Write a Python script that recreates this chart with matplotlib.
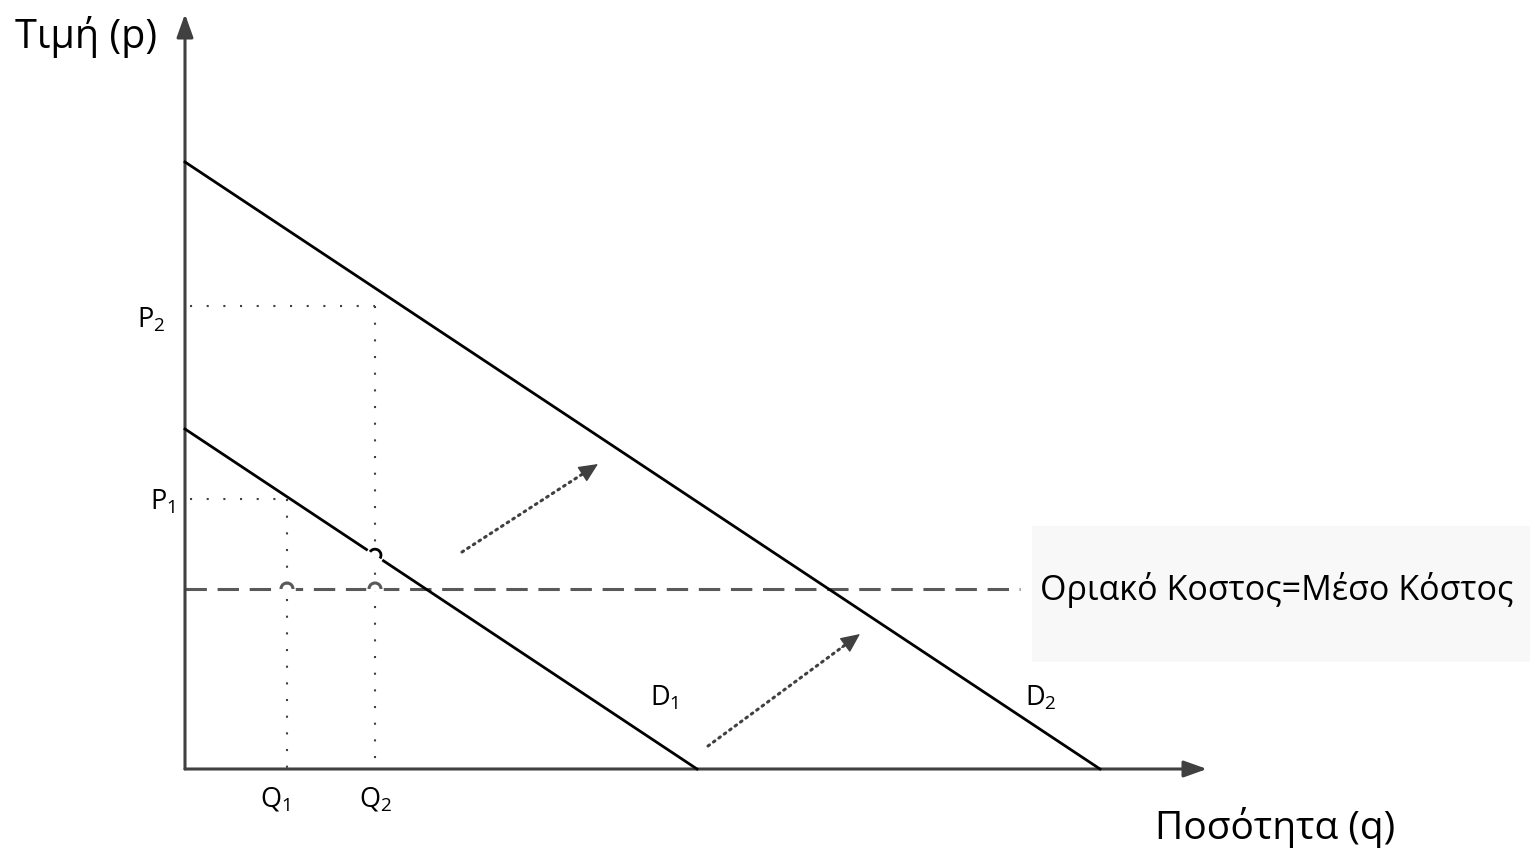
import numpy as np
import matplotlib.pyplot as plt
from matplotlib.patches import Arc, Rectangle

plt.rcParams['font.family'] = ['Open Sans', 'DejaVu Sans']
plt.rcParams['mathtext.fontset'] = 'custom'
plt.rcParams['mathtext.rm'] = 'Open Sans'

# Δεδομένα (μονάδες του διαγράμματος)
d1_p0, d1_q0 = 340, 512      # καμπύλη ζήτησης D1: τομές με άξονες
d2_p0, d2_q0 = 607, 915      # καμπύλη ζήτησης D2
mc = 180                     # οριακό = μέσο κόστος
mc_end = 835
p_levels = [270, 463]        # P1, P2
q_levels = [102, 190]        # Q1, Q2
p_labels = ['P$_\\mathregular{1}$', 'P$_\\mathregular{2}$']
q_labels = ['Q$_\\mathregular{1}$', 'Q$_\\mathregular{2}$']
shift_arrows = [((277, 217), (413, 305)), ((523, 23), (675, 135))]
x_max, y_max = 1022, 755

axis_col = '#404040'

fig = plt.figure(figsize=(15.35, 8.53), dpi=100)
ax = fig.add_axes([0, 0, 1, 1])
ax.set_xlim(-185, 1350)
ax.set_ylim(-83, 770)
ax.axis('off')

# άξονες με βέλη
ax.annotate('', xy=(0, y_max), xytext=(0, 0),
            arrowprops=dict(arrowstyle='-|>,head_length=1.4,head_width=0.5',
                            color=axis_col, lw=2.2, shrinkA=0, shrinkB=0))
ax.annotate('', xy=(x_max, 0), xytext=(0, 0),
            arrowprops=dict(arrowstyle='-|>,head_length=1.4,head_width=0.5',
                            color=axis_col, lw=2.2, shrinkA=0, shrinkB=0))

# καμπύλες ζήτησης
ax.plot([0, d1_q0], [d1_p0, 0], color='black', lw=2.0, zorder=3)
ax.plot([0, d2_q0], [d2_p0, 0], color='black', lw=2.0, zorder=3)

# οριακό κόστος
ax.plot([0, mc_end], [mc, mc], color='#595959', lw=2.2, dashes=(7, 3.5), zorder=2)

# βοηθητικές γραμμές
for p, q in zip(p_levels, q_levels):
    ax.plot([5, q], [p, p], color=axis_col, lw=1.5, dashes=(1, 7), zorder=1)
    ax.plot([q, q], [p, 0], color=axis_col, lw=1.5, dashes=(1, 7), zorder=1)

# "άλματα" γραμμών στις διασταυρώσεις
for q in q_levels:
    ax.plot([q - 6, q + 6], [mc, mc], color='white', lw=4, zorder=4)
    ax.add_patch(Arc((q, mc), 12, 12, theta1=0, theta2=180,
                     color='#595959', lw=2.2, zorder=5))
slope = d1_p0 / d1_q0
ang = np.degrees(np.arctan(-slope))
qh = q_levels[1]
ph = d1_p0 - slope * qh
dx, dy = 6 * np.cos(np.radians(ang)), 6 * np.sin(np.radians(ang))
ax.plot([qh - dx, qh + dx], [ph - dy, ph + dy], color='white', lw=4, zorder=4)
ax.add_patch(Arc((qh, ph), 12, 12, angle=ang, theta1=0, theta2=180,
                 color='black', lw=2.0, zorder=5))

# βέλη μετατόπισης
for (x0, y0), (x1, y1) in shift_arrows:
    ax.plot([x0, x1 - 0.1 * (x1 - x0)], [y0, y1 - 0.1 * (y1 - y0)],
            color=axis_col, lw=2.2, dashes=(0.6, 1.6), dash_capstyle='round', zorder=3)
    ax.annotate('', xy=(x1, y1), xytext=(x1 - 0.12 * (x1 - x0), y1 - 0.12 * (y1 - y0)),
                arrowprops=dict(arrowstyle='-|>,head_length=1.2,head_width=0.55',
                                color=axis_col, lw=1, shrinkA=0, shrinkB=0))

# πλαίσιο ετικέτας κόστους
ax.add_patch(Rectangle((847, 107), 498, 136, facecolor='#f8f8f8', edgecolor='none', zorder=0))
ax.text(1092, mc, 'Οριακό Κοστος=Μέσο Κόστος', fontsize=24.5, ha='center', va='center')

# ετικέτες
ax.text(-99, 733, 'Τιμή (p)', fontsize=28.5, ha='center', va='center')
ax.text(1090, -58, 'Ποσότητα (q)', fontsize=28, ha='center', va='center')
ax.text(-10, p_levels[0] - 2, p_labels[0], fontsize=19.5, ha='right', va='center')
ax.text(-20, p_levels[1] - 13, p_labels[1], fontsize=19.5, ha='right', va='center')
for xq, lab in zip([q_levels[0] - 12, q_levels[1] + 1], q_labels):
    ax.text(xq, -30, lab, fontsize=19.5, ha='center', va='center')
ax.text(479, 72, 'D$_\\mathregular{1}$', fontsize=19.5, ha='center', va='center')
ax.text(856, 72, 'D$_\\mathregular{2}$', fontsize=19.5, ha='center', va='center')

fig.savefig('out.png', dpi=100)
